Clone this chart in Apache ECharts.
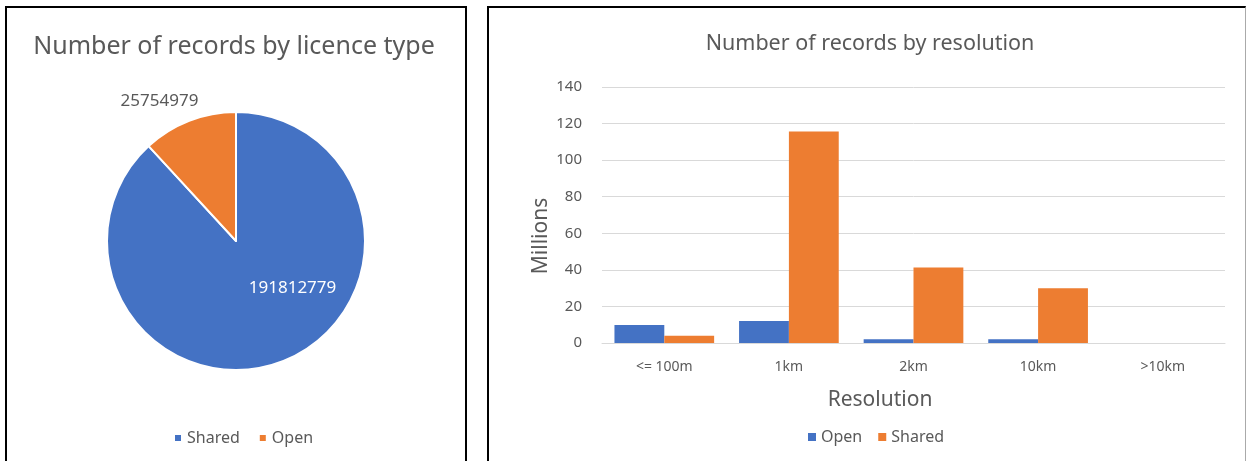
<!DOCTYPE html>
<html>
<head>
<meta charset="utf-8">
<script src="https://cdn.jsdelivr.net/npm/echarts@6/dist/echarts.min.js"></script>
<style>
  html, body { margin: 0; padding: 0; background: #ffffff; }
  #wrap { position: relative; width: 1247px; height: 461px; overflow: hidden; background: #fff; }
  .chart { position: absolute; left: 0; top: 0; width: 1247px; height: 461px; }
  .frame { position: absolute; border: 2px solid #000; border-bottom: none; box-sizing: border-box; }
</style>
</head>
<body>
<div id="wrap">
  <div class="frame" style="left:5px; top:6px; width:462px; height:470px;"></div>
  <div class="frame" style="left:487px; top:6px; width:759px; height:470px; border-right:1px solid #aaa;"></div>
  <div id="left" class="chart"></div>
  <div id="right" class="chart"></div>
</div>
<script>
// ---- data ----
const pieTitle = 'Number of records by licence type';
const licenceTypes = ['Shared', 'Open'];
const licenceCounts = [191812779, 25754979];

const barTitle = 'Number of records by resolution';
const resolutions = ['<= 100m', '1km', '2km', '10km', '>10km'];
const openMillions = [9.9, 12.0, 2.1, 2.1, 0];
const sharedMillions = [4.0, 115.7, 41.3, 30.0, 0];
const yTicks = [0, 20, 40, 60, 80, 100, 120, 140];

const BLUE = '#4472C4';
const ORANGE = '#ED7D31';
const TXT = '#595959';
const FONT = 'Noto Sans';

// ---- left: pie ----
const left = echarts.init(document.getElementById('left'), null, { renderer: 'canvas' });
left.setOption({
  animation: false,
  backgroundColor: 'transparent',
  textStyle: { fontFamily: FONT },
  title: {
    text: pieTitle,
    left: 234, top: 47,
    textAlign: 'center', textVerticalAlign: 'middle',
    padding: 0,
    textStyle: { fontFamily: FONT, fontSize: 25, fontWeight: 'normal', color: TXT }
  },
  legend: {
    data: licenceTypes.map((n, i) => ({ name: n, itemStyle: { color: i === 0 ? BLUE : ORANGE } })),
    left: 168, top: 425,
    icon: 'rect', itemWidth: 8, itemHeight: 8, itemGap: 18,
    textStyle: { fontFamily: FONT, fontSize: 16, color: TXT }
  },
  series: [{
    type: 'pie',
    center: [236, 241],
    radius: 129,
    startAngle: 90,
    clockwise: true,
    avoidLabelOverlap: false,
    itemStyle: { borderColor: '#fff', borderWidth: 2 },
    label: { show: true, position: 'inside', formatter: '{c}', fontFamily: FONT, fontSize: 17 },
    labelLine: { show: false },
    labelLayout: function (p) {
      return p.dataIndex === 0 ? { dx: 32, dy: -16 } : { dx: -52, dy: -77 };
    },
    data: licenceTypes.map((n, i) => ({
      name: n,
      value: licenceCounts[i],
      itemStyle: { color: i === 0 ? BLUE : ORANGE },
      label: { color: i === 0 ? '#ffffff' : TXT }
    }))
  }]
});

// ---- right: bars ----
const right = echarts.init(document.getElementById('right'), null, { renderer: 'canvas' });
right.setOption({
  animation: false,
  backgroundColor: 'transparent',
  textStyle: { fontFamily: FONT },
  title: [{
    text: barTitle,
    left: 870, top: 44,
    textAlign: 'center', textVerticalAlign: 'middle',
    padding: 0,
    textStyle: { fontFamily: FONT, fontSize: 21.5, fontWeight: 'normal', color: TXT }
  }, {
    text: 'Resolution',
    left: 880, top: 400,
    textAlign: 'center', textVerticalAlign: 'middle',
    padding: 0,
    textStyle: { fontFamily: FONT, fontSize: 21, fontWeight: 'normal', color: TXT }
  }],
  legend: {
    data: ['Open', 'Shared'],
    left: 803, top: 424,
    icon: 'rect', itemWidth: 8, itemHeight: 8, itemGap: 16,
    textStyle: { fontFamily: FONT, fontSize: 16, color: TXT }
  },
  grid: { left: 602, right: 22, top: 87, bottom: 118, containLabel: false },
  xAxis: {
    type: 'category',
    data: resolutions,
    axisLine: { lineStyle: { color: '#D9D9D9', width: 1 } },
    axisTick: { show: false },
    axisLabel: { color: TXT, fontSize: 14, margin: 17, fontFamily: FONT }
  },
  yAxis: {
    type: 'value',
    min: yTicks[0], max: yTicks[yTicks.length - 1], interval: 20,
    name: 'Millions',
    nameLocation: 'middle',
    nameGap: 50,
    nameTextStyle: { color: TXT, fontSize: 21, fontFamily: FONT, padding: [0, 42, 0, 0] },
    axisLine: { show: false },
    axisTick: { show: false },
    axisLabel: { color: TXT, fontSize: 15, margin: 20, fontFamily: FONT },
    splitLine: { lineStyle: { color: '#D9D9D9', width: 1 } }
  },
  series: [{
    name: 'Open',
    type: 'bar',
    data: openMillions,
    itemStyle: { color: BLUE },
    barGap: '0%',
    barCategoryGap: '20%'
  }, {
    name: 'Shared',
    type: 'bar',
    data: sharedMillions,
    itemStyle: { color: ORANGE },
    barGap: '0%',
    barCategoryGap: '20%'
  }]
});
</script>
</body>
</html>
